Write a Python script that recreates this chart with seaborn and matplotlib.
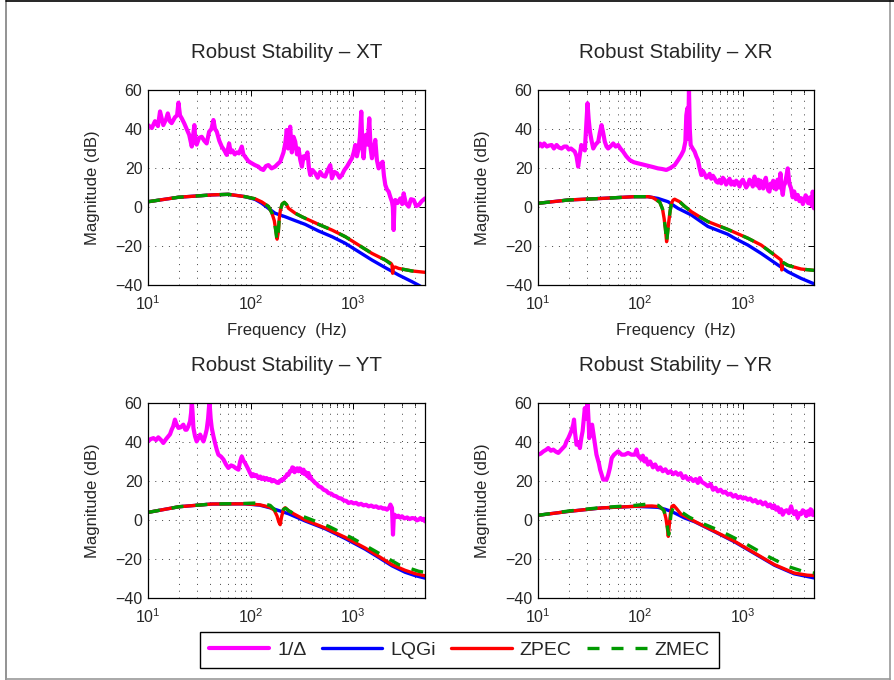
import matplotlib
matplotlib.use("Agg")
import numpy as np
import pandas as pd
import seaborn as sns
import matplotlib.pyplot as plt
from matplotlib.lines import Line2D
from matplotlib.ticker import LogLocator, FixedLocator, NullFormatter, LogFormatterSciNotation

sns.set_style("white")
plt.rcParams['font.family'] = ['Liberation Sans', 'DejaVu Sans']
plt.rcParams['mathtext.fontset'] = 'custom'
plt.rcParams['mathtext.rm'] = 'Liberation Sans'
plt.rcParams['mathtext.it'] = 'Liberation Sans:italic'
plt.rcParams['axes.unicode_minus'] = True

# ---------------- data ----------------
panels = ["XT", "XR", "YT", "YR"]
series_names = ["1/\u0394", "LQGi", "ZPEC", "ZMEC"]
x_ticks = [10, 100, 1000]
y_ticks = [-40, -20, 0, 20, 40, 60]

# XT
xt_inv_f = [10, 10.9, 11.7, 12.5, 13.1, 14.1, 15.0, 15.6, 16.3, 17.0, 18.3, 19.2, 19.8, 20.5, 21.3, 22.5, 23.8, 25.2, 26.7, 28.3, 29.0, 29.8, 31.5, 33.4, 35.3, 37.3, 39.4, 41.5, 43.4, 45.0, 46.8, 49.5, 52.3, 55.5, 58.5, 61.7, 64.0, 66.5, 70, 73.3, 77, 82.0, 85, 88.4, 95, 102.7, 110, 119, 126, 133, 141, 149, 160, 173, 183, 194, 209, 218, 225, 232, 238, 243, 252, 262, 272, 283, 293, 305, 316, 328, 340, 358, 370, 381, 400, 426, 450, 476, 505, 533, 565, 597, 619, 655, 693, 735, 775, 820, 868, 920, 971, 1010, 1046, 1085, 1127, 1160, 1197, 1230, 1262, 1295, 1329, 1380, 1432, 1475, 1521, 1580, 1639, 1700, 1767, 1850, 1933, 1990, 2052, 2130, 2212, 2300, 2384, 2430, 2474, 2520, 2569, 2700, 2874, 3000, 3098, 3250, 3466, 3650, 3878, 4100, 4340, 4650, 5000]
xt_inv_db = [42, 40.5, 44, 41.5, 49, 42, 45, 48, 44, 43, 46, 47, 53.5, 47, 45.5, 43, 40, 37, 31, 42, 33, 32, 35.5, 36, 34, 32.6, 38.6, 40, 44.6, 40, 38.6, 34, 31, 29, 26.7, 32.6, 28, 29, 27, 28, 27.5, 31, 27, 25.8, 23.5, 22.4, 21.5, 20.7, 19.5, 19, 21, 21.5, 19.8, 20.7, 22, 23.2, 28, 33, 39.5, 30, 38, 41.2, 28, 36, 33.5, 27, 30, 24, 20.7, 26, 25, 28, 20, 16.4, 19, 17.3, 15, 18, 16, 15.6, 19, 21.5, 14.7, 18, 17.3, 15, 16.4, 19, 20.7, 23, 25, 28, 31.8, 26, 30, 36, 48.9, 30, 25, 33, 37, 32, 45.5, 30, 25, 30, 34.4, 24, 19.8, 22, 23.2, 16, 11.3, 9, 7.9, 5, 2.7, 0, -11.8, 1, 3.6, 2, 4.4, 1.5, 7, 2, 0.2, 4, 3.6, 0.5, 1, 3, 4.4]
xt_lqgi_f = [10, 19.8, 41.8, 60.7, 88.4, 110.6, 128.5, 149, 173, 217, 272, 340, 459, 619, 835, 1127, 1521, 2052, 2770, 3736, 4300, 5000]
xt_lqgi_db = [2.7, 5.0, 6.2, 6.5, 5.3, 3.9, 1.9, -0.7, -3.2, -5.0, -7.0, -8.9, -12.3, -15.2, -18.6, -22.9, -27.2, -31.1, -34.9, -38.3, -40.0, -42.0]
xt_zpec_f = [10, 19.8, 41.8, 60.7, 88.4, 110.6, 128.5, 149, 161, 170, 176, 181, 186, 190, 195, 203, 213, 224, 234, 272, 316, 459, 619, 835, 1127, 1521, 2052, 2330, 2384, 2419, 2460, 2570, 2770, 3736, 5000]
xt_zpec_db = [2.7, 5.0, 6.2, 6.5, 5.3, 4.2, 2.6, 0.3, -3, -7, -12, -16.5, -13, -6, -1.5, 1.5, 2.4, 1.2, -0.7, -3.2, -5.0, -8.9, -11.8, -15.2, -19.5, -23.8, -27.2, -28.9, -29.7, -34.0, -31.0, -30.8, -31.5, -32.8, -33.5]
xt_zmec_f = [10, 19.8, 41.8, 60.7, 88.4, 110.6, 128.5, 149, 161, 170, 176, 181, 186, 190, 195, 203, 213, 224, 234, 272, 316, 459, 619, 835, 1127, 1521, 2052, 2384, 2770, 3736, 5000]
xt_zmec_db = [2.7, 5.0, 6.2, 6.5, 5.3, 4.2, 2.6, 0.3, -3, -7, -12.5, -17.5, -13, -6, -1.5, 1.5, 2.4, 1.2, -0.7, -3.2, -5.0, -8.9, -11.8, -15.2, -19.5, -23.8, -27.2, -29.7, -31.5, -32.8, -33.5]

# XR
xr_inv_f = [10, 10.5, 11, 11.5, 12.2, 12.8, 13.6, 14.3, 15.2, 16, 17, 18, 19.05, 20, 21, 22.9, 23.8, 24.7, 25.7, 26.5, 27.5, 28.7, 29.5, 30.5, 31.3, 32.2, 33.4, 34.7, 36.5, 38.8, 40.2, 41.8, 43.4, 45.0, 46.8, 48.5, 51, 54.4, 57.5, 60.7, 64, 68, 73, 78.9, 86, 95, 106, 119, 133, 149, 163, 180, 197, 217, 234, 252, 265, 276, 282, 288.6, 294, 299.5, 305, 311, 325, 340, 353, 366.6, 380, 395, 410, 425, 442, 459, 477, 495, 514, 533, 554, 575, 597, 619, 642, 665, 692, 719, 747, 775, 805, 835, 867, 900, 935, 971, 1008, 1045, 1085, 1127, 1170, 1215, 1260, 1309, 1345, 1385, 1425, 1465, 1505, 1550, 1595, 1640, 1690, 1735, 1785, 1834, 1885, 1940, 1995, 2052, 2125, 2200, 2275, 2348, 2410, 2474, 2540, 2600, 2690, 2770, 2870, 2984, 3090, 3200, 3330, 3466, 3600, 3750, 3890, 4025, 4140, 4250, 4380, 4505, 4600, 4700, 4780, 4857, 4950, 5000]
xr_inv_db = [31, 32.5, 31, 32.6, 31, 31.5, 31.8, 30, 31.8, 30.5, 30, 31, 31, 29.5, 30, 28.4, 26, 20.7, 27, 31.8, 30, 29, 40, 53.2, 45, 38.6, 34, 30, 32, 33.5, 38, 42, 38, 33.5, 31, 30, 31, 32.6, 31, 31.8, 30, 28.4, 26, 24.1, 23, 22.4, 21.8, 21.2, 20.5, 19.8, 19.5, 19, 20, 21.5, 24, 26.7, 29, 33.5, 47, 50.6, 35, 60.5, 40, 31.8, 30, 28.4, 26, 24.1, 20, 16.4, 18.5, 17, 15, 15.6, 17, 14.5, 16, 14.7, 13, 12.5, 14, 12.1, 15, 14, 11.5, 13, 14.5, 11.5, 13, 11.3, 13.5, 12.5, 10.5, 13, 14, 12, 10, 11.3, 14, 13, 10.5, 15.6, 13, 11, 14, 9.6, 13.5, 12, 9.5, 13, 15, 11, 8.5, 7.9, 12, 10, 13.5, 11.3, 9, 14, 10, 17.3, 10, 6.2, 11, 12, 16, 19.8, 12, 9.6, 5, 8, 4, 6.2, 3, 4.5, 1.5, 3.6, 6, 5, 2, 1.9, 5, 4, 0.5, 7.9, 2, -0.7]
xr_lqgi_f = [10, 19.8, 41.8, 88.4, 119, 149, 187, 234, 316, 459, 719, 835, 1127, 1521, 2052, 2770, 3736, 4800, 5000]
xr_lqgi_db = [1.9, 3.6, 4.4, 5.3, 5.3, 4.4, 2.7, -0.7, -4.1, -10.0, -14.0, -16.0, -19.5, -23.8, -28.5, -33.2, -36.6, -39.0, -39.3]
xr_zpec_f = [10, 19.8, 41.8, 88.4, 119, 133, 155, 165, 171, 176, 181, 186, 190, 196, 202, 209, 217, 230, 243, 272, 316, 380, 459, 719, 971, 1127, 1521, 2052, 2384, 2419, 2470, 2770, 3736, 5000]
xr_zpec_db = [1.9, 3.6, 4.4, 5.3, 5.3, 4.8, 2.5, -1, -5.8, -11, -17.8, -12, -7.5, -2, 1.9, 3.5, 4.0, 3.3, 2.7, 0.3, -2.4, -5.0, -7.5, -11.5, -14.5, -16.0, -19.5, -24.6, -27.2, -32.3, -28.5, -29.9, -31.8, -32.5]
xr_zmec_f = [10, 19.8, 41.8, 88.4, 119, 133, 155, 165, 171, 176, 181, 186, 190, 196, 202, 209, 217, 230, 243, 272, 316, 380, 459, 719, 971, 1127, 1521, 2052, 2384, 2770, 3736, 5000]
xr_zmec_db = [1.9, 3.6, 4.4, 5.3, 5.3, 4.8, 2.5, -1, -5.8, -11, -18.3, -12, -7.5, -2, 1.9, 3.5, 4.0, 3.3, 2.7, 0.3, -2.4, -5.0, -7.5, -11.5, -14.5, -16.0, -19.5, -24.6, -27.8, -29.9, -31.8, -32.5]

# YT
yt_inv_f = [10, 10.6, 11.3, 12, 12.6, 13.4, 14.1, 15, 15.8, 16.4, 17.0, 17.6, 18.3, 19.0, 19.8, 20.8, 22.1, 23.1, 23.8, 24.7, 25.7, 26.3, 26.7, 27.2, 27.7, 28.7, 29.8, 31, 32.2, 33.4, 34.7, 36, 37.3, 38.5, 39.7, 40.8, 41.8, 43.4, 45.0, 46.8, 48.5, 51.5, 54.4, 57.5, 60.7, 64.5, 68, 72, 76.1, 79, 82, 85, 88.4, 95, 99, 102.7, 106, 110, 114, 119, 124, 128, 133, 138.5, 143, 149, 155, 161, 167, 173, 180, 187, 193, 198, 204, 209, 215, 220, 227, 234, 241, 248, 255, 262, 268, 275, 284, 293, 301, 310, 319, 328, 336, 345, 356, 366, 373, 380, 395, 410, 425, 442, 459, 487, 515, 545, 574, 610, 645, 680, 719, 765, 810, 855, 900, 955, 1010, 1065, 1127, 1190, 1260, 1335, 1411, 1495, 1580, 1670, 1767, 1860, 1950, 2040, 2131, 2250, 2300, 2384, 2438, 2480, 2531, 2640, 2750, 2870, 2985, 3150, 3350, 3540, 3736, 4000, 4170, 4340, 4520, 4700, 4850, 5000]
yt_inv_db = [40.3, 41.5, 42, 41, 42.4, 41, 39.5, 41.5, 43, 44, 46.3, 48, 51.5, 49, 47.2, 47.5, 48.9, 46.3, 46.3, 48, 50.6, 55, 61, 55, 47.2, 43, 40.3, 42, 43.8, 42, 40.3, 43, 46.3, 52, 61, 52, 47.2, 43, 39.5, 36, 33.5, 32.5, 31, 28.5, 26.7, 28, 27.5, 26.5, 25.8, 30, 32.6, 30.5, 29.2, 26, 24, 22.4, 23.5, 22.5, 23, 21.5, 22.3, 21, 21.8, 20.7, 21.5, 20.5, 21, 19.8, 20.5, 20, 19.2, 19, 20.2, 20, 21, 20.7, 22, 22, 23.5, 23.2, 25, 25, 27, 26.7, 24.5, 25.5, 26.5, 25, 26.5, 26, 24, 25.8, 23.5, 24.5, 22.5, 24.1, 21.5, 22.5, 20.7, 20, 19, 18.5, 17.3, 16.8, 15.5, 15, 13.8, 13.5, 12.5, 12.2, 11.3, 11, 10, 9.8, 8.7, 9.2, 8.5, 8.8, 7.9, 8.3, 7.5, 7.8, 7, 7.4, 6.7, 7, 6.2, 6.5, 5.8, 6, 5.3, 6.5, 7.9, 6.2, -7.5, 1, 2.7, 1.5, 2.2, 1.2, 1.9, 0.8, 1.3, 0.5, 1, 0.8, -0.2, 0.2, 1, 0, 0.6, -0.7]
yt_lqgi_f = [10, 20, 42, 88, 123, 161, 194, 234, 340, 533, 835, 1310, 1767, 2384, 3200, 4000, 5000]
yt_lqgi_db = [3.9, 6.8, 8.2, 8.3, 7.6, 6.0, 4.6, 3.2, -0.5, -4.5, -9.5, -15.0, -19.2, -23.5, -26.8, -28.5, -29.8]
yt_zpec_f = [10, 20, 42, 88, 123, 155, 170, 181, 188, 194, 200, 209, 217, 234, 260, 340, 533, 835, 1310, 1767, 2384, 3200, 4000, 5000]
yt_zpec_db = [3.9, 6.8, 8.2, 8.3, 7.8, 6.5, 5, 2, -1, -2.4, 1.5, 5.5, 6.3, 4.8, 3.3, 0, -4.1, -8.9, -14.4, -18.6, -22.9, -25.8, -27.5, -28.6]
yt_zmec_f = [10, 20, 42, 88, 123, 155, 170, 181, 190, 198, 209, 220, 234, 260, 340, 574, 971, 1640, 2770, 4340, 5000]
yt_zmec_db = [3.9, 6.8, 8.2, 8.5, 8.8, 7.5, 5.5, 3.5, 2, 3, 5.5, 6, 4.8, 3.5, 1.4, -3.2, -9.2, -16, -22.9, -26.3, -26.8]

# YR
yr_inv_f = [10, 10.6, 11.3, 12, 12.6, 13.4, 14.1, 15, 15.8, 16.5, 17.5, 18.3, 19.0, 19.8, 20.5, 21.3, 22.1, 22.5, 23, 23.8, 25, 25.7, 26.5, 27.3, 28.7, 29.5, 30.5, 31.3, 31.7, 32.5, 33.8, 35.3, 37.3, 39.4, 40.5, 43.4, 46.8, 48.5, 50.5, 52.6, 55.5, 60.7, 66, 70.6, 76, 82, 88.4, 92, 95, 102.7, 106, 110, 114, 119, 125, 133, 140, 149, 157, 166, 176, 187, 198, 210, 222, 234, 248, 262, 277, 293, 310, 330, 348, 366, 382, 400, 430, 459, 487, 515, 545, 574, 610, 645, 680, 719, 765, 810, 855, 902, 955, 1010, 1065, 1127, 1190, 1260, 1335, 1411, 1495, 1580, 1670, 1767, 1860, 1950, 2040, 2131, 2215, 2300, 2390, 2474, 2580, 2700, 2840, 2985, 3100, 3200, 3330, 3466, 3600, 3736, 3880, 4025, 4200, 4350, 4505, 4620, 4750, 4880, 5000]
yr_inv_db = [33.5, 34, 35.2, 36, 36.9, 35.5, 36.1, 35, 34.4, 35.5, 36.9, 38, 40.3, 42, 43.8, 46, 48.9, 51.5, 45, 38.6, 40, 36.9, 42, 45.5, 57.4, 52, 61, 50, 42, 46, 48.9, 42, 33.5, 29, 25.8, 20.7, 20.7, 23, 26.7, 31.8, 33.5, 35.2, 33.5, 33.5, 34.4, 33.5, 33.5, 36.1, 33, 31, 33, 30, 31.5, 28.4, 30, 27, 28.5, 25.8, 27, 25, 26, 24.1, 25, 23.5, 24.5, 23.2, 24, 21.5, 22.5, 20.7, 21.5, 20, 21, 19, 21.5, 19.5, 18.5, 17.3, 18.5, 15.5, 16.5, 14.7, 15.5, 14, 14.5, 13, 13.5, 12, 12.8, 11.3, 12, 11, 11.5, 10.4, 11, 9.5, 10.2, 8.7, 9.5, 8, 9, 7, 8, 6.2, 7.5, 5.3, 6.5, 4, 5.5, 2.7, 4.5, 5, 3.5, 7, 4, 3, 4.5, 1, 3.5, 3, 5, 4.4, 2, 4.5, 2.7, 5.5, 5, 2.5, 3.6]
yr_lqgi_f = [10, 19.8, 41.8, 88.4, 149, 175, 202, 272, 340, 533, 835, 1310, 2052, 3200, 5000]
yr_lqgi_db = [2.4, 4.4, 6.2, 7.0, 6.5, 5.5, 4.4, 1.0, -0.9, -6.0, -11.2, -17.2, -23.2, -27.6, -29.7]
yr_zpec_f = [10, 19.8, 41.8, 88.4, 130, 155, 170, 178, 184, 188, 192, 197, 204, 212, 225, 250, 340, 533, 835, 1310, 2052, 3200, 4300, 5000]
yr_zpec_db = [2.4, 4.4, 6.2, 7.0, 7.2, 6.8, 5, 1, -4, -8.4, -3, 3, 7, 7.5, 6, 3, -0.7, -5.8, -10.9, -16.9, -22.9, -27.2, -28.3, -28.5]
yr_zmec_f = [10, 19.8, 41.8, 88.4, 120, 150, 170, 180, 186, 190, 195, 200, 210, 234, 300, 395, 619, 1046, 1767, 2770, 4000, 5000]
yr_zmec_db = [2.4, 4.6, 6.4, 7.5, 8.2, 7.5, 5, 0, -5, -7.5, -2, 3, 6.5, 5.3, 1.5, -1.5, -5.8, -11.8, -18.6, -23.8, -26.5, -27.2]

data = {
    "XT": [(xt_inv_f, xt_inv_db), (xt_lqgi_f, xt_lqgi_db), (xt_zpec_f, xt_zpec_db), (xt_zmec_f, xt_zmec_db)],
    "XR": [(xr_inv_f, xr_inv_db), (xr_lqgi_f, xr_lqgi_db), (xr_zpec_f, xr_zpec_db), (xr_zmec_f, xr_zmec_db)],
    "YT": [(yt_inv_f, yt_inv_db), (yt_lqgi_f, yt_lqgi_db), (yt_zpec_f, yt_zpec_db), (yt_zmec_f, yt_zmec_db)],
    "YR": [(yr_inv_f, yr_inv_db), (yr_lqgi_f, yr_lqgi_db), (yr_zpec_f, yr_zpec_db), (yr_zmec_f, yr_zmec_db)],
}

# ---------------- style ----------------
colors = ["#ff00ff", "#0000ff", "#ff0000", "#009a00"]
lws = [3.0, 2.4, 2.4, 2.4]
styles = ["-", "-", "-", (0, (3.6, 3.6))]

W, H = 894, 680
fig = plt.figure(figsize=(W / 100, H / 100), dpi=100)
fig.patch.set_facecolor("white")

def box(l, t, r, b):
    return [l / W, 1 - b / H, (r - l) / W, (b - t) / H]

positions = {
    "XT": box(148, 90, 425, 285),
    "XR": box(538, 90, 814, 285),
    "YT": box(148, 403, 425, 598),
    "YR": box(538, 403, 814, 598),
}

for p in panels:
    ax = fig.add_axes(positions[p])
    for (f, db), c, lw, ls in zip(data[p], colors, lws, styles):
        df = pd.DataFrame({"f": f, "db": db})
        sns.lineplot(data=df, x="f", y="db", ax=ax, color=c, lw=lw, linestyle=ls,
                     estimator=None, sort=False, legend=False)
    ax.set_xscale("log")
    ax.set_xlim(10, 5000)
    ax.set_ylim(-40, 60)
    ax.xaxis.set_major_locator(FixedLocator(x_ticks))
    ax.xaxis.set_major_formatter(LogFormatterSciNotation())
    ax.xaxis.set_minor_locator(LogLocator(base=10, subs=np.arange(2, 10), numticks=20))
    ax.xaxis.set_minor_formatter(NullFormatter())
    ax.set_yticks(y_ticks)
    ax.tick_params(axis="both", which="both", direction="in", top=True, right=True,
                   labelsize=11.5, color="black")
    ax.tick_params(axis="both", which="major", length=4, width=0.7)
    ax.tick_params(axis="both", which="minor", length=2.5, width=0.6)
    ax.tick_params(axis="x", pad=7)
    ax.tick_params(axis="y", pad=4)
    ax.grid(True, which="major", axis="both", color="0.25", lw=0.7, ls=(0, (1, 6)))
    ax.grid(True, which="minor", axis="x", color="0.25", lw=0.7, ls=(0, (1, 6)))
    for s in ax.spines.values():
        s.set_color("black")
        s.set_linewidth(0.9)
    ax.set_title("Robust Stability \u2013 " + p, fontsize=14.8, pad=23)
    ax.set_ylabel("Magnitude (dB)", fontsize=12, labelpad=11)
    if p in ("XT", "XR"):
        ax.set_xlabel("Frequency  (Hz)", fontsize=12, labelpad=7)
    else:
        ax.set_xlabel("")

handles = [Line2D([], [], color=c, lw=lw, ls=ls) for c, lw, ls in zip(colors, lws, styles)]
leg = fig.legend(handles, series_names, loc="center", ncol=4,
                 bbox_to_anchor=(459.5 / W, 1 - 650 / H), fontsize=14,
                 frameon=True, fancybox=False, edgecolor="black", framealpha=1,
                 handlelength=3.1, handletextpad=0.4, columnspacing=0.8,
                 borderpad=0.45)
leg.get_frame().set_linewidth(1.0)

# figure border
fig.add_artist(Line2D([5.5 / W, 5.5 / W], [0, 1], transform=fig.transFigure, color="0.5", lw=1.2))
fig.add_artist(Line2D([5.5 / W, 890 / W], [1 - 679 / H, 1 - 679 / H], transform=fig.transFigure, color="0.6", lw=1.2))
fig.add_artist(Line2D([890 / W, 890 / W], [0, 1], transform=fig.transFigure, color="0.6", lw=1.2))
fig.add_artist(Line2D([5.5 / W, 1], [1 - 0.5 / H, 1 - 0.5 / H], transform=fig.transFigure, color="black", lw=1.2))

fig.savefig("out.png", dpi=100)
